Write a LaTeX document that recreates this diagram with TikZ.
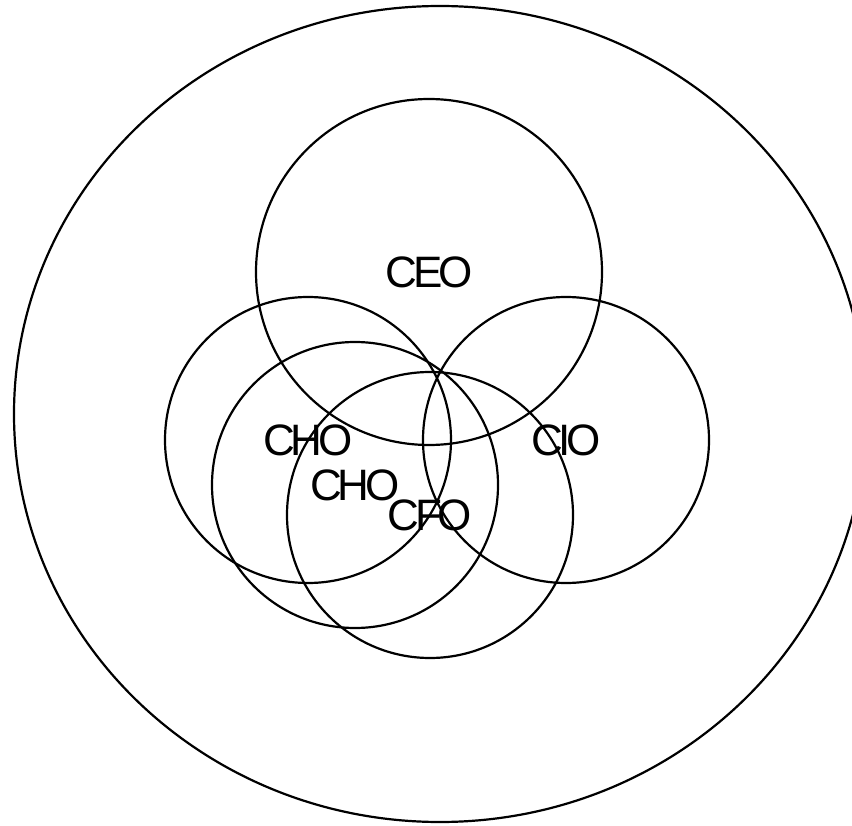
\documentclass[tikz,border=0pt]{standalone}
\usepackage{fontspec}
\newfontfamily\rolefont{Liberation Sans}[LetterSpace=-10]
\usetikzlibrary{shapes.geometric}
\begin{document}
\begin{tikzpicture}[x=1pt,y=-1pt]
 \tikzstyle{set} = [circle, draw, line width=2.2pt, inner sep=0pt, minimum size=286pt, font=\rolefont\fontsize{44}{44}\selectfont]
    \tikzstyle{whole} = [ellipse, draw, line width=2.2pt, inner sep=0pt]
    %%
    \useasboundingbox (0,0) rectangle (852,826);

        \node[whole, minimum width=852pt, minimum height=816pt] (org) at (440,414) {};
        \node[set, minimum size=346pt] (ceo) at (429,272) {CEO};
        \node[set] (cho) at (308,440) {CHO};
        \node[set] (cio) at (566,440) {CIO};
        \node[set] (chob) at (355,485) {CHO};
        \node[set] (cfo) at (430,515) {CFO};

    \end{tikzpicture}
\end{document}
